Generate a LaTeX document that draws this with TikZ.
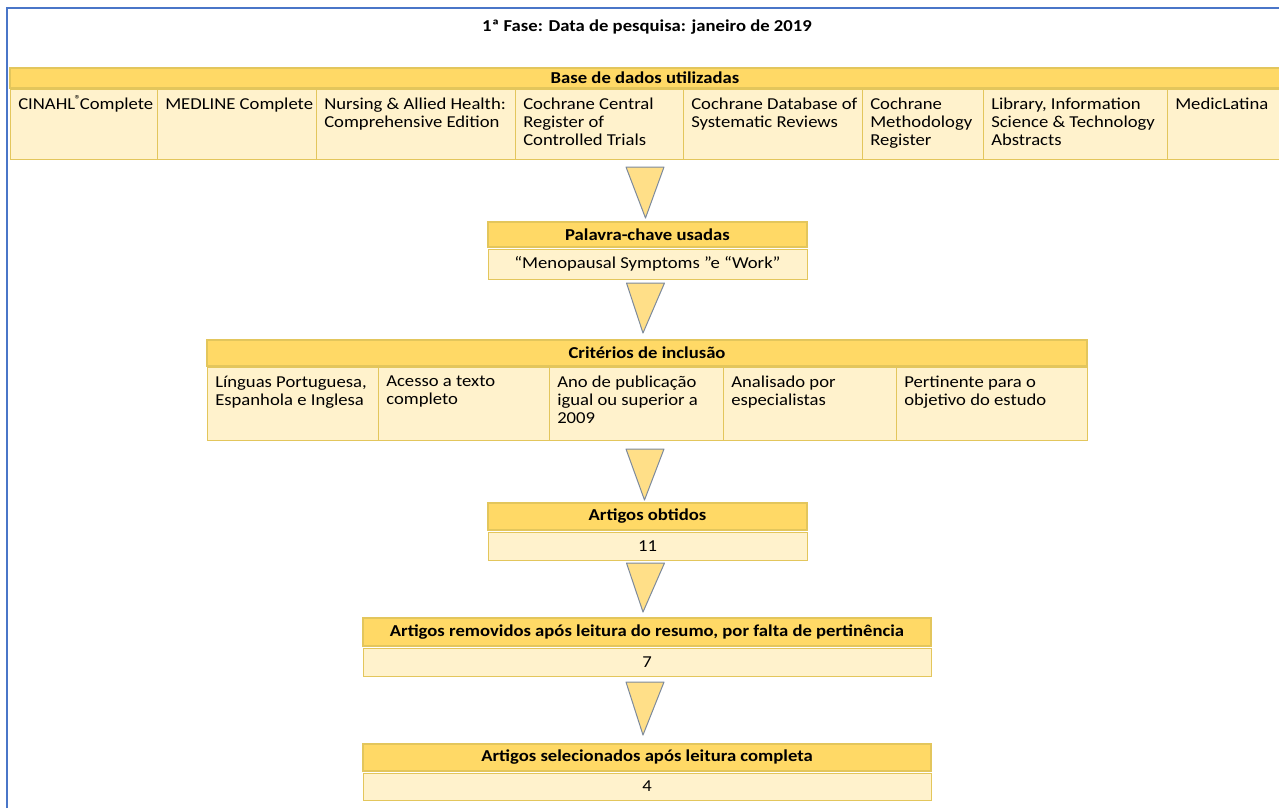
\documentclass[tikz,border=0pt]{standalone}
\usepackage{fontspec}
\setmainfont{Carlito}[FakeStretch=1.12]
\usetikzlibrary{calc,positioning}
\definecolor{HeadGold}{HTML}{FFD966}
\definecolor{CellCream}{HTML}{FFF2CC}
\definecolor{RuleGold}{HTML}{E3C65C}
\definecolor{FrameBlue}{HTML}{4A76C8}
\definecolor{TriEdge}{HTML}{7D8A9C}
\definecolor{TriFill}{HTML}{FFDF88}
\tikzset{wd/.style={minimum width=#1*0.75pt}, ht/.style={minimum height=#1*0.75pt}}
\tikzstyle{headbar} = [draw=RuleGold,fill=HeadGold,line width=0.8pt,inner sep=0pt,outer sep=0pt,anchor=north west,font=\bfseries\fontsize{12.5}{13.5}\selectfont]
\tikzstyle{cellbox} = [draw=RuleGold,fill=CellCream,line width=0.6pt,inner sep=0pt,outer sep=0pt,anchor=north west,font=\fontsize{12.5}{13.5}\selectfont]
\tikzstyle{celltext} = [anchor=north west,align=left,inner sep=0pt,xshift=6pt,yshift=-6.5pt,font=\fontsize{12.5}{13.5}\selectfont]
\tikzstyle{tri} = [draw=TriEdge,fill=TriFill,line width=0.75pt,line join=round]

\begin{document}
\begin{tikzpicture}[x=0.75pt,y=-0.75pt]
\useasboundingbox (0,0) rectangle (1279,808);
\draw[FrameBlue,line width=1.5pt] (7,808) -- (7,8) -- (1280,8);
\node[font=\bfseries\fontsize{12.5}{13.5}\selectfont] (title) at (647,27) {1ª Fase: Data de pesquisa: janeiro de 2019};

% base de dados
\node[headbar,wd=1270,ht=20] (basehead) at (10,68) {Base de dados utilizadas};
\node[cellbox,wd=147,ht=70,label={[celltext]north west:CINAHL\kern-0.5pt\smash{\textsuperscript{®}}\kern-1.5pt Complete}] (db1) at (10,89) {};
\node[cellbox,wd=159,ht=70,right=0pt of db1,label={[celltext]north west:MEDLINE Complete}] (db2) {};
\node[cellbox,wd=199,ht=70,right=0pt of db2,label={[celltext]north west:{Nursing \& Allied Health:\\Comprehensive Edition}}] (db3) {};
\node[cellbox,wd=168,ht=70,right=0pt of db3,label={[celltext]north west:{Cochrane Central\\Register of\\Controlled Trials}}] (db4) {};
\node[cellbox,wd=179,ht=70,right=0pt of db4,label={[celltext]north west:{Cochrane Database of\\Systematic Reviews}}] (db5) {};
\node[cellbox,wd=121,ht=70,right=0pt of db5,label={[celltext]north west:{Cochrane\\Methodology\\Register}}] (db6) {};
\node[cellbox,wd=184,ht=70,right=0pt of db6,label={[celltext]north west:{Library, Information\\Science \& Technology\\Abstracts}}] (db7) {};
\node[cellbox,wd=113,ht=70,right=0pt of db7,label={[celltext]north west:MedicLatina}] (db8) {};
\coordinate (dbbot) at (basehead.south |- db1.south);

% palavras-chave
\node[headbar,wd=319,ht=25] (palhead) at (488,222) {Palavra-chave usadas};
\node[cellbox,wd=319,ht=30,below=1.5pt of palhead] (palrow) {“Menopausal Symptoms ”e “Work”};

% criterios
\node[headbar,wd=880,ht=26] (crithead) at (207,340) {Critérios de inclusão};
\node[cellbox,wd=171,ht=73,anchor=north west,label={[celltext]north west:{Línguas Portuguesa,\\Espanhola e Inglesa}}] (crit1) at (207,367) {};
\node[cellbox,wd=171,ht=73,right=0pt of crit1,label={[celltext]north west:{Acesso a texto\\completo}}] (crit2) {};
\node[cellbox,wd=174,ht=73,right=0pt of crit2,label={[celltext]north west:{Ano de publicação\\igual ou superior a\\2009}}] (crit3) {};
\node[cellbox,wd=173,ht=73,right=0pt of crit3,label={[celltext]north west:{Analisado por\\especialistas}}] (crit4) {};
\node[cellbox,wd=191,ht=73,right=0pt of crit4,label={[celltext]north west:{Pertinente para o\\objetivo do estudo}}] (crit5) {};
\coordinate (critbot) at (crithead.south |- crit1.south);

% artigos
\node[headbar,wd=319,ht=27] (obthead) at (488,503) {Artigos obtidos};
\node[cellbox,wd=319,ht=28,below=1.5pt of obthead] (obtrow) {11};
\node[headbar,wd=568,ht=28] (remhead) at (363,618) {Artigos removidos após leitura do resumo, por falta de pertinência};
\node[cellbox,wd=568,ht=28,below=1.5pt of remhead] (remrow) {7};
\node[headbar,wd=568,ht=27] (selhead) at (363,744) {Artigos selecionados após leitura completa};
\node[cellbox,wd=568,ht=27,below=1.5pt of selhead] (selrow) {4};

% triangulos
\draw[tri] ($(dbbot)+(-19,8)$) -- ($(dbbot)+(19,8)$) -- ($(palhead.north)+(-2,-4)$) -- cycle;
\draw[tri] ($(palrow.south)+(-21,4)$) -- ($(palrow.south)+(17,4)$) -- ($(crithead.north)+(-4,-7)$) -- cycle;
\draw[tri] ($(critbot)+(-21,9)$) -- ($(critbot)+(17,9)$) -- ($(obthead.north)+(-3,-3)$) -- cycle;
\draw[tri] ($(obtrow.south)+(-21,3)$) -- ($(obtrow.south)+(17,3)$) -- ($(remhead.north)+(-4,-6)$) -- cycle;
\draw[tri] ($(remrow.south)+(-21,6)$) -- ($(remrow.south)+(17,6)$) -- ($(selhead.north)+(-4,-9)$) -- cycle;
\end{tikzpicture}
\end{document}
